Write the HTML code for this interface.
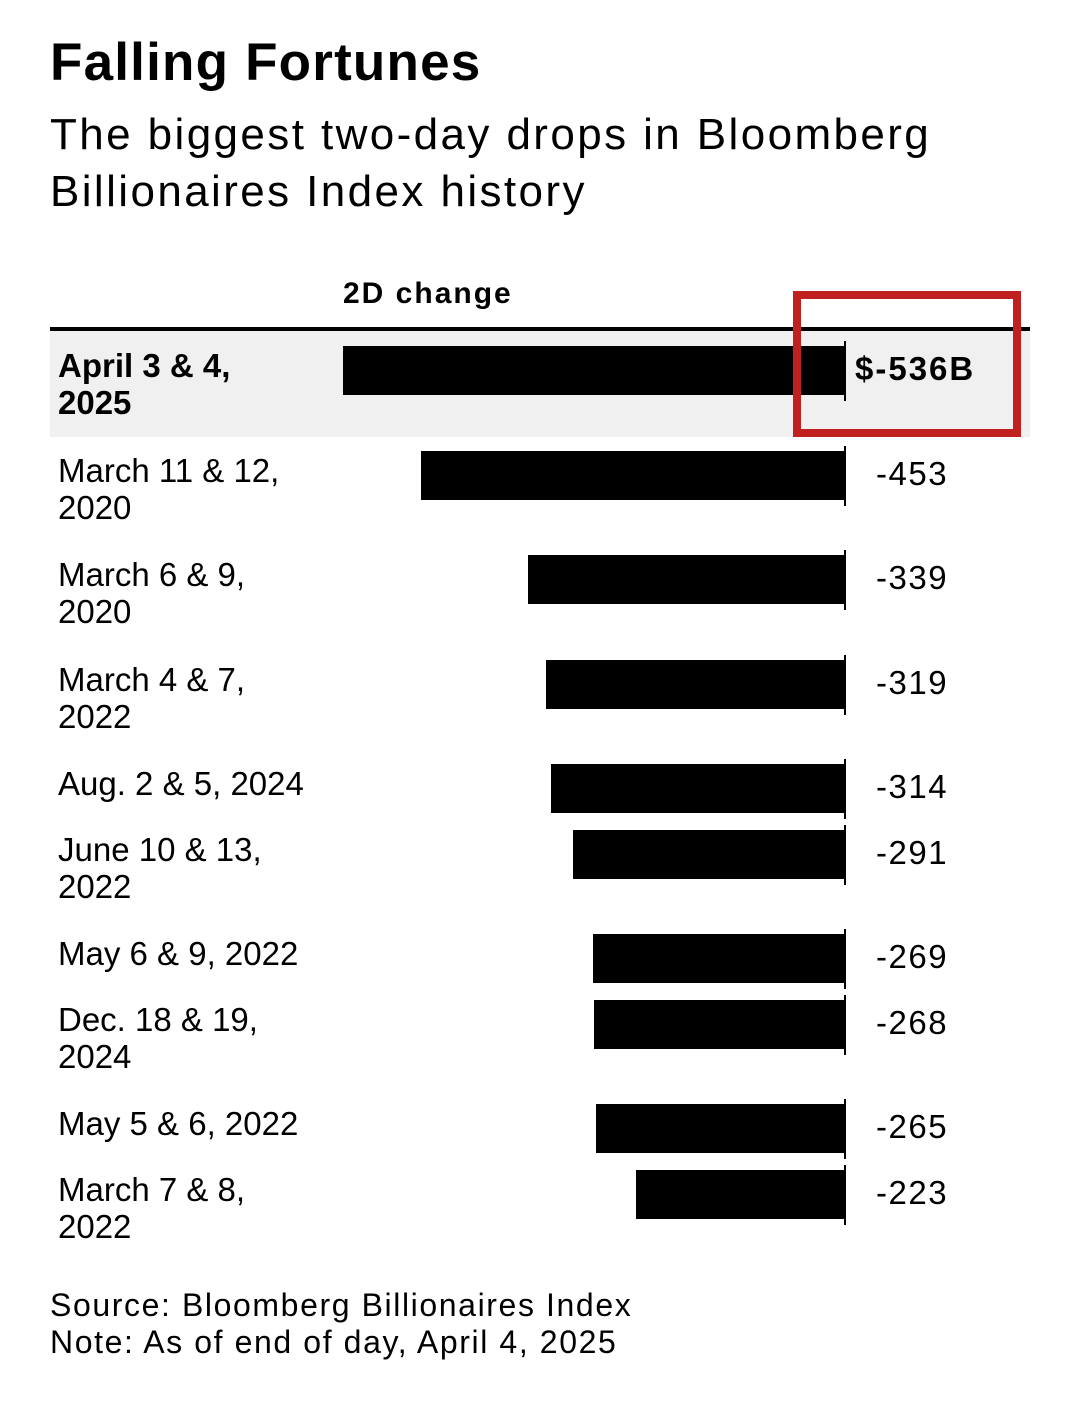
<!DOCTYPE html>
<html><head><meta charset="utf-8"><style>
body{margin:0;width:1080px;height:1401px;background:#fff;position:relative;overflow:hidden;font-family:"Liberation Sans",Arial,sans-serif;color:#000}
.a{position:absolute;white-space:nowrap}
.lbl{font-size:33px;line-height:37px;left:58px}
.val{font-size:33px;line-height:33px;left:876px;letter-spacing:1.5px}
.bar{position:absolute;background:#000;height:49px}
.tick{position:absolute;left:844px;width:2px;height:60px;background:#000}
</style></head><body>
<div class="a" style="left:50px;top:36px;font-size:53px;line-height:53px;font-weight:bold;letter-spacing:1.2px">Falling Fortunes</div>
<div class="a" style="left:50px;top:106px;font-size:44px;line-height:57px;letter-spacing:2.4px">The biggest two-day drops in Bloomberg<br>Billionaires Index history</div>
<div class="a" style="left:343px;top:279px;font-size:30px;line-height:30px;font-weight:bold;letter-spacing:2px">2D change</div>
<div style="position:absolute;left:50px;top:327px;width:980px;height:4px;background:#000"></div>
<div style="position:absolute;left:50px;top:331px;width:980px;height:106px;background:#f0f0f0"></div>

<div class="bar" style="left:343px;width:501px;top:346px"></div><div class="tick" style="top:341px"></div>
<div class="a lbl" style="top:347px;font-weight:bold">April 3 &amp; 4,<br>2025</div>
<div class="a val" style="top:352px;font-weight:bold;left:855px;letter-spacing:2px">$-536B</div>

<div class="bar" style="left:421px;width:423px;top:451px"></div><div class="tick" style="top:446px"></div>
<div class="a lbl" style="top:452px">March 11 &amp; 12,<br>2020</div>
<div class="a val" style="top:457px">-453</div>

<div class="bar" style="left:528px;width:316px;top:555px"></div><div class="tick" style="top:550px"></div>
<div class="a lbl" style="top:556px">March 6 &amp; 9,<br>2020</div>
<div class="a val" style="top:561px">-339</div>

<div class="bar" style="left:546px;width:298px;top:660px"></div><div class="tick" style="top:655px"></div>
<div class="a lbl" style="top:661px">March 4 &amp; 7,<br>2022</div>
<div class="a val" style="top:666px">-319</div>

<div class="bar" style="left:551px;width:293px;top:764px"></div><div class="tick" style="top:759px"></div>
<div class="a lbl" style="top:765px">Aug. 2 &amp; 5, 2024</div>
<div class="a val" style="top:770px">-314</div>

<div class="bar" style="left:573px;width:271px;top:830px"></div><div class="tick" style="top:825px"></div>
<div class="a lbl" style="top:831px">June 10 &amp; 13,<br>2022</div>
<div class="a val" style="top:836px">-291</div>

<div class="bar" style="left:593px;width:251px;top:934px"></div><div class="tick" style="top:929px"></div>
<div class="a lbl" style="top:935px">May 6 &amp; 9, 2022</div>
<div class="a val" style="top:940px">-269</div>

<div class="bar" style="left:594px;width:250px;top:1000px"></div><div class="tick" style="top:995px"></div>
<div class="a lbl" style="top:1001px">Dec. 18 &amp; 19,<br>2024</div>
<div class="a val" style="top:1006px">-268</div>

<div class="bar" style="left:596px;width:248px;top:1104px"></div><div class="tick" style="top:1099px"></div>
<div class="a lbl" style="top:1105px">May 5 &amp; 6, 2022</div>
<div class="a val" style="top:1110px">-265</div>

<div class="bar" style="left:636px;width:208px;top:1170px"></div><div class="tick" style="top:1165px"></div>
<div class="a lbl" style="top:1171px">March 7 &amp; 8,<br>2022</div>
<div class="a val" style="top:1176px">-223</div>

<div style="position:absolute;left:793px;top:291px;width:212px;height:130px;border:8px solid #c0201e"></div>

<div class="a" style="left:50px;top:1287px;font-size:32px;line-height:37px;letter-spacing:1.6px">Source: Bloomberg Billionaires Index<br>Note: As of end of day, April 4, 2025</div>
</body></html>
